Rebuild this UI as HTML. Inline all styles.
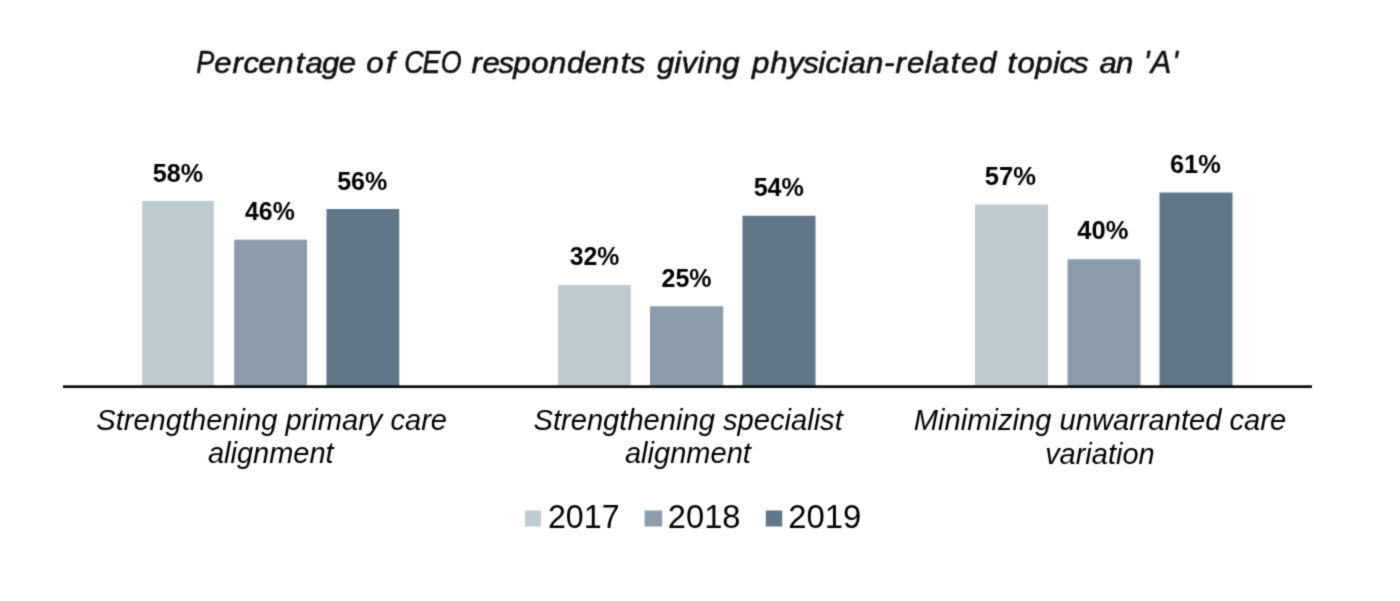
<!DOCTYPE html>
<html lang="en">
<head>
<meta charset="utf-8">
<title>Percentage of CEO respondents giving physician-related topics an 'A'</title>
<style>
  html, body { margin: 0; padding: 0; background: #ffffff; }
  body { width: 1400px; height: 601px; overflow: hidden; }
  svg { display: block; }
  text { font-family: "Liberation Sans", "DejaVu Sans", sans-serif; }
  .title { font-style: italic; font-size: 28.6px; fill: #111; stroke: #111; stroke-width: 0.6px; }
  .val { font-weight: bold; font-size: 26.7px; fill: #000; }
  .cat { font-style: italic; font-size: 29px; fill: #000; }
  .leg { font-size: 33.5px; fill: #000; }
</style>
</head>
<body>
<svg width="1400" height="601" viewBox="0 0 1400 601">
  <defs>
    <filter id="softFilter" x="0" y="0" width="1400" height="601" filterUnits="userSpaceOnUse" color-interpolation-filters="sRGB">
      <feConvolveMatrix order="3" kernelMatrix="1 4 1 4 16 4 1 4 1" divisor="36" edgeMode="duplicate" preserveAlpha="true"/>
    </filter>
  </defs>
  <g filter="url(#softFilter)">
  <rect x="0" y="0" width="1400" height="601" fill="#ffffff"/>

  <!-- chart title -->
  <g class="title" transform="scale(1.09,1)">
    <text y="72.70"><tspan x="180.13" font-size="32.2" textLength="16.51" lengthAdjust="spacingAndGlyphs">P</tspan><tspan x="196.64 213.36 223.29 237.20 253.53 271.24 280.26 295.42 310.89">ercentage</tspan></text>
    <text y="72.70" x="336.09 354.08">of</text>
    <text y="72.70" font-size="32.2" transform="scale(0.7637,1)" x="485.48 507.53 529.58">CEO</text>
    <text y="72.70" x="432.63 442.67 457.37 470.88 487.31 503.75 520.15 536.14 552.12 569.54 577.71">respondents</text>
    <text y="72.70" x="602.76 618.51 625.22 639.87 646.91 662.53">giving</text>
    <text y="72.70" x="689.81 706.70 723.24 736.82 750.77 757.28 771.74 778.36 794.51 811.07 821.61 832.04 848.51 855.13 872.20 881.62 898.08">physician-related</text>
    <text y="72.70" x="924.36 933.58 949.70 966.02 972.04 984.51">topics</text>
    <text y="72.70" x="1008.76 1023.77">an</text>
    <text y="72.70" font-size="32.2" transform="scale(0.8761,1)" x="1197.82 1204.99 1227.49">'A'</text>
  </g>

  <!-- bars -->
  <g>
    <rect x="142.2" y="201" width="71.60" height="185.00" fill="#bfc9d0"/>
    <rect x="234.2" y="239.7" width="72.80" height="146.30" fill="#8a9baa"/>
    <rect x="326.5" y="209" width="72.70" height="177.00" fill="#617686"/>
    <rect x="558" y="285" width="72.80" height="101.00" fill="#bfc9d0"/>
    <rect x="650" y="306.2" width="73.20" height="79.80" fill="#8a9baa"/>
    <rect x="742.5" y="215.75" width="73.00" height="170.25" fill="#617686"/>
    <rect x="975" y="204.5" width="73.00" height="181.50" fill="#bfc9d0"/>
    <rect x="1067.5" y="259.25" width="73.00" height="126.75" fill="#8a9baa"/>
    <rect x="1159.5" y="192.5" width="73.00" height="193.50" fill="#617686"/>
  </g>

  <!-- axis line -->
  <rect x="63" y="385.3" width="1249" height="2.70" fill="#0a0a0a"/>

  <!-- value labels -->
  <g class="val">
    <text x="152.72" y="181.55" textLength="50.32" lengthAdjust="spacingAndGlyphs">58%</text>
    <text x="245.01" y="220.25" textLength="49.73" lengthAdjust="spacingAndGlyphs">46%</text>
    <text x="337.19" y="189.85" textLength="50.16" lengthAdjust="spacingAndGlyphs">56%</text>
    <text x="569.65" y="265.45" textLength="49.59" lengthAdjust="spacingAndGlyphs">32%</text>
    <text x="661.56" y="286.75" textLength="50.07" lengthAdjust="spacingAndGlyphs">25%</text>
    <text x="753.65" y="196.25" textLength="50.32" lengthAdjust="spacingAndGlyphs">54%</text>
    <text x="984.79" y="184.85" textLength="51.25" lengthAdjust="spacingAndGlyphs">57%</text>
    <text x="1077.31" y="239.45" textLength="51.13" lengthAdjust="spacingAndGlyphs">40%</text>
    <text x="1169.91" y="173.05" textLength="50.80" lengthAdjust="spacingAndGlyphs">61%</text>
  </g>

  <!-- category labels -->
  <g class="cat">
    <text x="96.24" y="430.00" textLength="350.80" lengthAdjust="spacingAndGlyphs">Strengthening primary care</text>
    <text x="207.91" y="463.00" textLength="125.78" lengthAdjust="spacingAndGlyphs">alignment</text>
    <text x="533.49" y="430.00" textLength="309.29" lengthAdjust="spacingAndGlyphs">Strengthening specialist</text>
    <text x="624.98" y="463.00" textLength="125.90" lengthAdjust="spacingAndGlyphs">alignment</text>
    <text x="913.74" y="430.00" textLength="372.51" lengthAdjust="spacingAndGlyphs">Minimizing unwarranted care</text>
    <text x="1045.14" y="464.00" textLength="109.50" lengthAdjust="spacingAndGlyphs">variation</text>
  </g>

  <!-- legend -->
  <g>
    <rect x="525.0" y="510.5" width="16.00" height="16.00" fill="#bfc9d0"/>
    <rect x="644.6" y="510.5" width="17.60" height="16.00" fill="#8a9baa"/>
    <rect x="765.8" y="510.5" width="16.40" height="16.00" fill="#617686"/>
  </g>
  <g class="leg">
    <text x="547.95" y="527.80" textLength="71.68" lengthAdjust="spacingAndGlyphs">2017</text>
    <text x="667.83" y="527.80" textLength="72.64" lengthAdjust="spacingAndGlyphs">2018</text>
    <text x="788.25" y="527.80" textLength="73.10" lengthAdjust="spacingAndGlyphs">2019</text>
  </g>
  </g>
</svg>
</body>
</html>
